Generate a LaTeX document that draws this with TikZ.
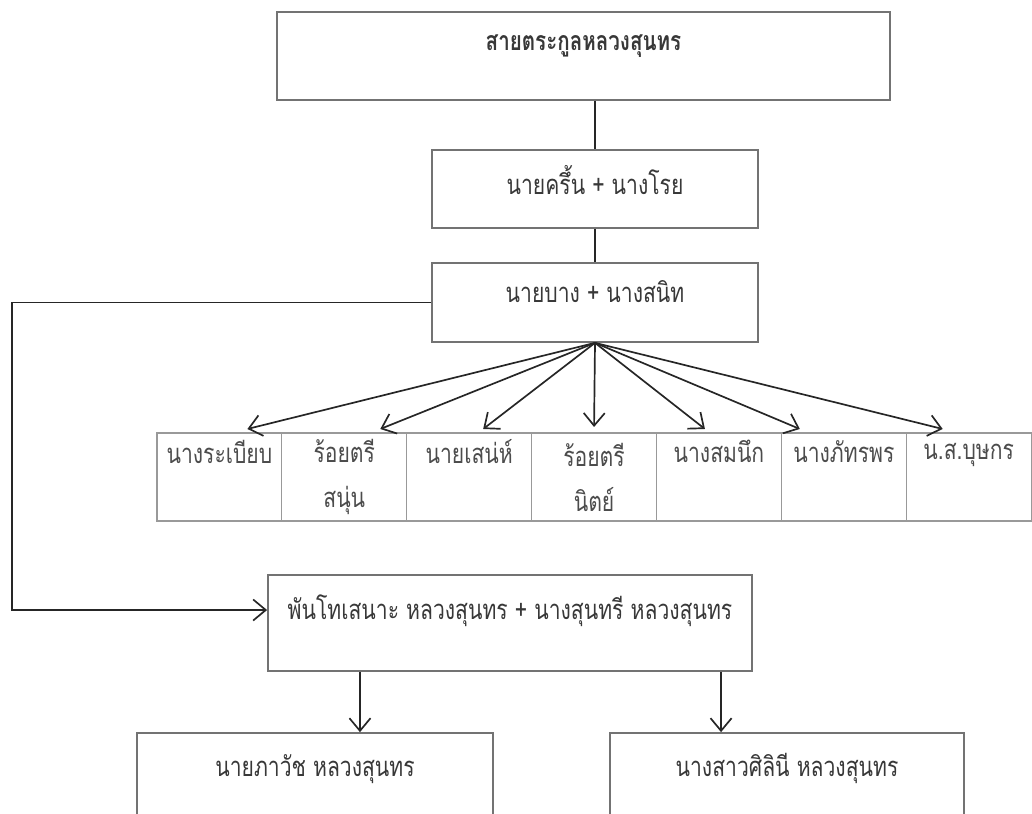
\documentclass[tikz,border=0pt]{standalone}
\usepackage{fontspec}
\newfontfamily\thaifont[Script=Thai, FakeStretch=0.77]{Loma}
\usetikzlibrary{arrows.meta, positioning}
\definecolor{boxgray}{gray}{0.45}
\definecolor{cellgray}{gray}{0.6}
\definecolor{linegray}{gray}{0.15}
\definecolor{textgray}{gray}{0.22}
\definecolor{celltext}{gray}{0.3}

\begin{document}
\begin{tikzpicture}[
    x=0.025cm, y=-0.025cm,
    box/.style={draw=boxgray, line width=1.2pt, align=center, text=textgray, font=\thaifont\fontsize{19.5}{22}\selectfont},
    titlebox/.style={box, font=\thaifont\bfseries\fontsize{19}{22}\selectfont},
    cell/.style={draw=cellgray, line width=0.9pt, outer sep=0pt, inner sep=0pt, minimum width=3.1214cm, minimum height=2.2cm, align=center, text=celltext, font=\thaifont\fontsize{19.5}{32}\selectfont},
    single/.style={text depth=1.265cm},
    arrow/.style={-{Straight Barb[length=9pt, width=15pt]}, line width=1.2pt, draw=linegray},
    link/.style={line width=1.2pt, draw=linegray}
]
\useasboundingbox (0,0) rectangle (1032,814);
\clip (0,0) rectangle (1032,814);

% Top of the family
\node[titlebox, minimum width=15.33cm, minimum height=2.2cm, text depth=0.69cm] (root) at (583.5,56) {สายตระกูลหลวงสุนทร};
\node[box, minimum width=8.15cm, minimum height=1.95cm, text depth=0.44cm] (gen1) at (595,189) {นายครึ้น + นางโรย};
\node[box, minimum width=8.15cm, minimum height=1.975cm, text depth=0.54cm] (gen2) at (595,302.5) {นายบาง + นางสนิท};
\draw[link] (gen1.north |- root.south) -- (gen1.north);
\draw[link] (gen1.south) -- (gen2.north);

% Children of gen2
\node[cell, single] (c1) at (219.4,477) {นางระเบียบ};
\node[cell, right=0 of c1] (c2) {ร้อยตรี\\สนุ่น};
\node[cell, single, right=0 of c2] (c3) {นายเสน่ห์};
\node[cell, right=0 of c3] (c4) {ร้อยตรี\\นิตย์};
\node[cell, single, right=0 of c4] (c5) {นางสมนึก};
\node[cell, single, right=0 of c5] (c6) {นางภัทรพร};
\node[cell, single, right=0 of c6] (c7) {น.ส.บุษกร};
\draw[arrow] (gen2.south) -- ([xshift=0.70cm, yshift=0.1cm]c1.north);
\draw[arrow] (gen2.south) -- ([xshift=0.90cm, yshift=0.1cm]c2.north);
\draw[arrow] (gen2.south) -- ([xshift=0.35cm, yshift=0.1cm]c3.north);
\draw[arrow] (gen2.south) -- ([yshift=0.15cm]c4.north);
\draw[arrow] (gen2.south) -- ([xshift=-0.35cm, yshift=0.1cm]c5.north);
\draw[arrow] (gen2.south) -- ([xshift=-1.10cm, yshift=0.1cm]c6.north);
\draw[arrow] (gen2.south) -- ([xshift=-0.65cm, yshift=0.1cm]c7.north);

% Line of Lt. Col. Sano
\node[box, minimum width=12.1cm, minimum height=2.4cm, text depth=0.79cm] (gen3) at (510,623) {พันโทเสนาะ หลวงสุนทร + นางสุนทรี หลวงสุนทร};
\coordinate (bend) at (12,302.5);
\draw[arrow] (gen2.west) -- (bend) |- ([yshift=0.325cm]gen3.west);

% Grandchildren
\node[box, minimum width=8.9cm, minimum height=2.925cm, text depth=1.32cm] (son) at (315,791.5) {นายภาวัช หลวงสุนทร};
\node[box, minimum width=8.85cm, minimum height=2.925cm, text depth=1.32cm] (daughter) at (787,791.5) {นางสาวศิลินี หลวงสุนทร};
\draw[arrow] ([xshift=-3.75cm]gen3.south) -- ([xshift=-3.75cm]gen3.south |- son.north);
\draw[arrow] ([xshift=5.275cm]gen3.south) -- ([xshift=5.275cm]gen3.south |- daughter.north);

\end{tikzpicture}
\end{document}
